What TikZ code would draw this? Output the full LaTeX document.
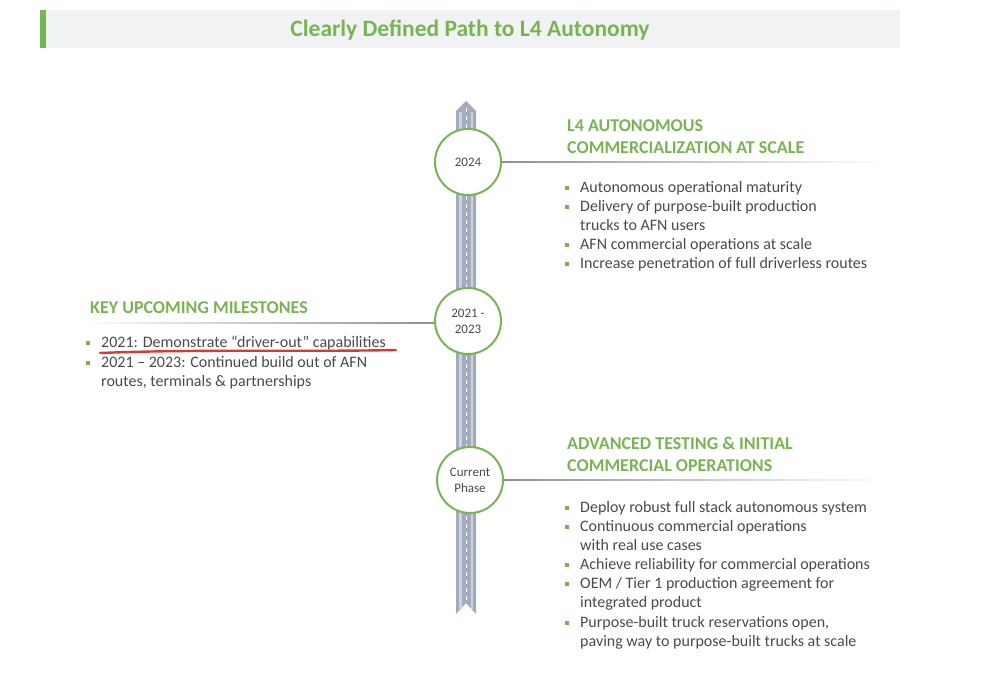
\documentclass[tikz,border=0pt]{standalone}
\usepackage{fontspec}
\setmainfont{Carlito}
\usetikzlibrary{calc}
\definecolor{brandgreen}{HTML}{78B552}
\definecolor{bodygrey}{HTML}{4A4A4A}
\definecolor{barfill}{HTML}{F1F2F4}
\definecolor{roadc}{HTML}{A2AABD}
\definecolor{roadlight}{HTML}{CDD2DC}
\definecolor{linegrey}{HTML}{8C8C8C}
\definecolor{redline}{HTML}{D93A2B}
\tikzset{
  milestone/.style={circle, draw=brandgreen, line width=2pt, fill=white, minimum size=66pt, inner sep=0pt, font=\fontsize{13}{16}\selectfont, text=bodygrey, align=center},
  heading/.style={anchor=base west, inner sep=0pt, text=brandgreen, font=\fontsize{18}{21}\selectfont\bfseries},
  body/.style={anchor=base west, inner sep=0pt, text=bodygrey, font=\fontsize{16}{19}\selectfont},
  bul/.style={fill=brandgreen, minimum size=3.4pt, inner sep=0pt},
  ruleeast/.style={left color=linegrey, right color=white, shading angle=90},
}
\begin{document}
\begin{tikzpicture}[x=1pt,y=-1pt]
\useasboundingbox (0,0) rectangle (1000,672);
% title bar
\fill[barfill] (40,10) rectangle (900,48);
\fill[brandgreen] (40,10) rectangle (46,48);
\node[text=brandgreen, font=\fontsize{23.5}{26}\selectfont\bfseries] (title) at (470,30) {Clearly Defined Path to L4 Autonomy};
% road
\fill[roadc] (456,111) -- (466,101) -- (476,111) -- (476,614) -- (466,603) -- (456,614) -- cycle;
\fill[roadlight] (459,112) rectangle (461.5,609);
\fill[roadlight] (470.5,112) rectangle (473,609);
\draw[white, line width=0.8pt, dash pattern=on 4pt off 4pt] (466,108) -- (466,600);
% connector rules (fading)
\coordinate (e24) at (885,162);
\coordinate (e21) at (80,323);
\coordinate (ecp) at (885,480);
\coordinate (s24) at (490,162);
\coordinate (s21) at (446,323);
\coordinate (scp) at (492,480);
\shade[left color=linegrey, right color=white] ($(s24)+(0,-0.7)$) rectangle ($(e24)+(0,0.7)$);
\shade[left color=white, right color=linegrey] ($(e21)+(0,-0.7)$) rectangle ($(s21)+(0,0.7)$);
\shade[left color=linegrey, right color=white] ($(scp)+(0,-0.7)$) rectangle ($(ecp)+(0,0.7)$);
% circles
\node[milestone] (c24) at (468,162) {2024};
\node[milestone] (c21) at (468,321) {2021 -\\2023};
\node[milestone] (ccp) at (470,480) {Current\\Phase};
% top right block
\node[heading] (h1a) at (567,131) {L4 AUTONOMOUS};
\node[heading] (h1b) at (567,153) {COMMERCIALIZATION AT SCALE};
\node[bul] (b11) at (567,188) {};
\node[body] (t11) at (580,192) {Autonomous operational maturity};
\node[bul] (b12) at (567,207) {};
\node[body] (t12) at (580,211) {Delivery of purpose-built production};
\node[body] (t12b) at (580,230) {trucks to AFN users};
\node[bul] (b13) at (567,245) {};
\node[body] (t13) at (580,249) {AFN commercial operations at scale};
\node[bul] (b14) at (567,264) {};
\node[body] (t14) at (580,268) {Increase penetration of full driverless routes};
% left block
\node[heading] (h2) at (90,313) {KEY UPCOMING MILESTONES};
\node[bul] (b21) at (88,343) {};
\node[body] (t21) at (101,347) {2021: Demonstrate ``driver-out'' capabilities};
\node[bul] (b22) at (88,363) {};
\node[body] (t22) at (101,367) {2021 – 2023: Continued build out of AFN};
\node[body] (t22b) at (101,386) {routes, terminals \& partnerships};
\coordinate (r1) at (100,353);
\coordinate (r2) at (396,350);
\draw[redline, line width=2.4pt, line cap=round] (r1) .. controls (200,349) and (300,352) .. (r2);
% bottom right block
\node[heading] (h3a) at (567,449) {ADVANCED TESTING \& INITIAL};
\node[heading] (h3b) at (567,471) {COMMERCIAL OPERATIONS};
\node[bul] (b31) at (567,508) {};
\node[body] (t31) at (580,512) {Deploy robust full stack autonomous system};
\node[bul] (b32) at (567,527) {};
\node[body] (t32) at (580,531) {Continuous commercial operations};
\node[body] (t32b) at (580,550) {with real use cases};
\node[bul] (b33) at (567,565) {};
\node[body] (t33) at (580,569) {Achieve reliability\ for commercial operations};
\node[bul] (b34) at (567,584) {};
\node[body] (t34) at (580,588) {OEM / Tier 1 production agreement for};
\node[body] (t34b) at (580,607) {integrated product};
\node[bul] (b35) at (567,623) {};
\node[body] (t35) at (580,627) {Purpose-built truck reservations open,};
\node[body] (t35b) at (580,646) {paving way to purpose-built trucks at scale};
\end{tikzpicture}
\end{document}
